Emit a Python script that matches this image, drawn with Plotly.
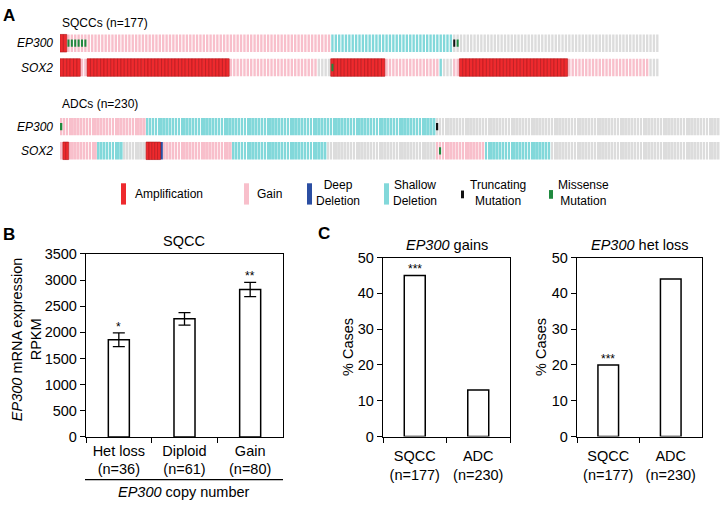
import plotly.graph_objects as go

W, H = 720, 506
FONT = "Liberation Sans, Arial, sans-serif"

# ---------------- Panel A data (run-length encoded per track) ----------------
sqcc_n = 177
adc_n = 230

sqcc_ep300_states = ["Amplification", "Gain", "Shallow Deletion", "None"]
sqcc_ep300_counts = [2, 78, 36, 61]
sqcc_sox2_states = ["Amplification", "Gain", "Amplification", "Gain", "None",
                    "Amplification", "Gain", "Shallow Deletion", "None", "Gain",
                    "Amplification", "Gain", "None"]
sqcc_sox2_counts = [6, 2, 42, 26, 4, 16, 16, 1, 3, 2, 32, 24, 3]

adc_ep300_states = ["Gain", "Shallow Deletion", "None"]
adc_ep300_counts = [30, 101, 99]
adc_sox2_states = ["Gain", "Amplification", "Gain", "Shallow Deletion", "None",
                   "Amplification", "Deep Deletion", "Gain", "Shallow Deletion", "None",
                   "Gain", "Shallow Deletion", "None"]
adc_sox2_counts = [1, 2, 10, 9, 8, 5, 1, 24, 33, 38, 17, 23, 59]

# mutation case indices
sqcc_ep300_missense = [2, 3, 4, 5, 6, 7, 117]
sqcc_ep300_truncating = [116]
sqcc_sox2_missense = [80]
adc_ep300_missense = [0]
adc_ep300_truncating = [131]
adc_sox2_missense = [132]

legend_labels = ["Amplification", "Gain", "Deep<br>Deletion", "Shallow<br>Deletion",
                 "Truncating<br>Mutation", "Missense<br>Mutation"]

# ---------------- Panel B data ----------------
b_categories = ["Het loss<br>(n=36)", "Diploid<br>(n=61)", "Gain<br>(n=80)"]
b_values = [1860, 2260, 2820]
b_errors = [130, 120, 135]
b_stars = ["*", "", "**"]

# ---------------- Panel C data ----------------
c_categories = ["SQCC<br>(n=177)", "ADC<br>(n=230)"]
c_gain_values = [45, 13]
c_gain_stars = ["***", ""]
c_loss_values = [20, 44]
c_loss_stars = ["***", ""]

# ---------------- styles ----------------
COL = {
    "Amplification": "#ee2a2e",
    "Gain": "#f8bfcb",
    "Deep Deletion": "#2b4ea2",
    "Shallow Deletion": "#82d8da",
    "None": "#dcdcdc",
    "Truncating": "#111111",
    "Missense": "#1f8a3f",
}
FS = 14.5


def px_x(p):
    return p / W


def px_y(p):
    return 1 - p / H


def expand(states, counts):
    out = []
    for s, c in zip(states, counts):
        out += [s] * c
    return out


fig = go.Figure()


def add_track(xa, ya, row, states, counts, cellw):
    seq = expand(states, counts)
    for st in ["None", "Gain", "Shallow Deletion", "Deep Deletion", "Amplification"]:
        idx = [i for i, s in enumerate(seq) if s == st]
        if not idx:
            continue
        if st == "Amplification":
            fig.add_trace(go.Bar(x=idx, y=[0.72] * len(idx), base=[row - 0.36] * len(idx),
                                 width=1.0, marker=dict(color=COL[st], line=dict(color="#b81a1e", width=0.7)),
                                 xaxis=xa, yaxis=ya, hoverinfo="skip"))
        else:
            fig.add_trace(go.Bar(x=idx, y=[0.72] * len(idx), base=[row - 0.36] * len(idx),
                                 width=cellw, marker=dict(color=COL[st], line=dict(width=0)),
                                 xaxis=xa, yaxis=ya, hoverinfo="skip"))


def add_mut(xa, ya, row, idx, kind):
    if not idx:
        return
    fig.add_trace(go.Bar(x=idx, y=[0.3] * len(idx), base=[row - 0.15] * len(idx),
                         width=0.6, marker=dict(color=COL[kind], line=dict(width=0)),
                         xaxis=xa, yaxis=ya, hoverinfo="skip"))


add_track("x", "y", 0, sqcc_ep300_states, sqcc_ep300_counts, 0.7)
add_track("x", "y", 1, sqcc_sox2_states, sqcc_sox2_counts, 0.7)
add_mut("x", "y", 0, sqcc_ep300_missense, "Missense")
add_mut("x", "y", 0, sqcc_ep300_truncating, "Truncating")
add_mut("x", "y", 1, sqcc_sox2_missense, "Missense")

add_track("x2", "y2", 0, adc_ep300_states, adc_ep300_counts, 0.66)
add_track("x2", "y2", 1, adc_sox2_states, adc_sox2_counts, 0.66)
add_mut("x2", "y2", 0, adc_ep300_missense, "Missense")
add_mut("x2", "y2", 0, adc_ep300_truncating, "Truncating")
add_mut("x2", "y2", 1, adc_sox2_missense, "Missense")

# ---------------- Panel B ----------------
bar_style = dict(color="white", line=dict(color="black", width=1.5))
fig.add_trace(go.Bar(x=b_categories, y=b_values, width=0.32, marker=bar_style,
                     error_y=dict(type="data", array=b_errors, visible=True, color="black",
                                  thickness=1.3, width=6),
                     xaxis="x3", yaxis="y3", hoverinfo="skip"))

# ---------------- Panel C ----------------
fig.add_trace(go.Bar(x=c_categories, y=c_gain_values, width=0.33, marker=bar_style,
                     xaxis="x4", yaxis="y4", hoverinfo="skip"))
fig.add_trace(go.Bar(x=c_categories, y=c_loss_values, width=0.33, marker=bar_style,
                     xaxis="x5", yaxis="y5", hoverinfo="skip"))

hidden = dict(visible=False, fixedrange=True, showgrid=False, zeroline=False)
tickfont = dict(family=FONT, size=FS, color="black")


def frame_x(dom, standoff):
    return dict(domain=dom, type="category", tickson="boundaries", ticks="outside", ticklen=5,
                tickwidth=1.3, tickcolor="black", showline=True, linecolor="black", linewidth=1.3,
                mirror=True, showgrid=False, zeroline=False, tickfont=tickfont, fixedrange=True,
                ticklabelstandoff=standoff)


def frame_y(dom, rng, dtick):
    return dict(domain=dom, range=rng, dtick=dtick, ticks="outside", ticklen=5, tickwidth=1.3,
                tickcolor="black", showline=True, linecolor="black", linewidth=1.3, mirror=True,
                showgrid=False, zeroline=False, tickfont=tickfont, fixedrange=True)


fig.update_layout(
    width=W, height=H, margin=dict(l=0, r=0, t=0, b=0),
    paper_bgcolor="white", plot_bgcolor="white", showlegend=False, barmode="overlay",
    font=dict(family=FONT, size=12, color="black"),
    xaxis=dict(hidden, domain=[px_x(60), px_x(659)], range=[-0.5, sqcc_n - 0.5]),
    yaxis=dict(hidden, domain=[px_y(74), px_y(23.8)], range=[1.5, -0.5]),
    xaxis2=dict(hidden, domain=[px_x(60), 1.0], range=[-0.5, adc_n - 0.5]),
    yaxis2=dict(hidden, domain=[px_y(160), px_y(110)], range=[1.5, -0.5]),
    xaxis3=frame_x([px_x(86), px_x(283)], 0),
    yaxis3=frame_y([px_y(443), px_y(254)], [0, 3500], 500),
    xaxis4=frame_x([px_x(383), px_x(510)], 6),
    yaxis4=frame_y([px_y(442.5), px_y(257.7)], [0, 50], 10),
    xaxis5=frame_x([px_x(577), px_x(702)], 6),
    yaxis5=frame_y([px_y(442.5), px_y(257.7)], [0, 50], 10),
)
fig.update_layout(xaxis3_anchor="y3", yaxis3_anchor="x3", xaxis4_anchor="y4", yaxis4_anchor="x4",
                  xaxis5_anchor="y5", yaxis5_anchor="x5", xaxis2_anchor="y2", yaxis2_anchor="x2")

ann = []


def text(x, y, s, size=12, xanchor="center", yanchor="middle", angle=0, bold=False):
    if bold:
        s = "<b>" + s + "</b>"
    ann.append(dict(x=px_x(x), y=px_y(y), xref="paper", yref="paper", text=s, showarrow=False,
                    xanchor=xanchor, yanchor=yanchor, textangle=angle,
                    font=dict(family=FONT, size=size, color="black")))


# panel letters
text(1, 8, "A", size=17, xanchor="left", bold=True)
text(1, 234, "B", size=17, xanchor="left", bold=True)
text(316, 233, "C", size=17, xanchor="left", bold=True)

# panel A labels
text(60, 15, "SQCCs (n=177)", xanchor="left")
text(55, 36.5, "<i>EP300</i>", xanchor="right")
text(55, 61.5, "<i>SOX2</i>", xanchor="right")
text(60, 99, "ADCs (n=230)", xanchor="left")
text(55, 122.5, "<i>EP300</i>", xanchor="right")
text(55, 147.5, "<i>SOX2</i>", xanchor="right")

# legend
shapes = []
leg_rects = [
    (121, 126, 181, 203, COL["Amplification"]),
    (244, 249, 181, 203, COL["Gain"]),
    (307, 312, 181, 203, COL["Deep Deletion"]),
    (384, 389, 181, 203, COL["Shallow Deletion"]),
    (461, 464, 188.5, 196.5, COL["Truncating"]),
    (549, 553, 188, 197, COL["Missense"]),
]
for x0, x1, y0, y1, c in leg_rects:
    shapes.append(dict(type="rect", xref="paper", yref="paper", x0=px_x(x0), x1=px_x(x1),
                       y0=px_y(y1), y1=px_y(y0), fillcolor=c, line=dict(width=0)))
text(133, 192, legend_labels[0], xanchor="left")
text(255, 192, legend_labels[1], xanchor="left")
text(338, 191, legend_labels[2])
text(415, 191, legend_labels[3])
text(498, 191, legend_labels[4])
text(583.5, 191, legend_labels[5])

# panel B extras
text(184.5, 241, "SQCC", size=FS)
text(26, 342, "<i>EP300</i> mRNA expression<br>RPKM", size=FS, angle=-90)
shapes.append(dict(type="line", xref="paper", yref="paper", x0=px_x(85), x1=px_x(283),
                   y0=px_y(487), y1=px_y(487), line=dict(color="black", width=1.3)))
text(184, 500, "<i>EP300</i> copy number", size=FS)
for c, v, e, s in zip(b_categories, b_values, b_errors, b_stars):
    if s:
        ann.append(dict(x=c, y=v + e, xref="x3", yref="y3", text=s, showarrow=False,
                        yanchor="bottom", yshift=-3, font=dict(family=FONT, size=12, color="black")))

# panel C extras
text(446.5, 245, "<i>EP300</i> gains", size=FS)
text(639.5, 245, "<i>EP300</i> het loss", size=FS)
text(348, 350, "% Cases", size=FS, angle=-90)
text(541, 350, "% Cases", size=FS, angle=-90)
for xa, ya, vals, stars in [("x4", "y4", c_gain_values, c_gain_stars), ("x5", "y5", c_loss_values, c_loss_stars)]:
    for c, v, s in zip(c_categories, vals, stars):
        if s:
            ann.append(dict(x=c, y=v, xref=xa, yref=ya, text=s, showarrow=False,
                            yanchor="bottom", yshift=-3, font=dict(family=FONT, size=12, color="black")))

fig.update_layout(annotations=ann, shapes=shapes)
fig.write_html("out.html", config={"displayModeBar": False},
               post_script="document.body.style.margin='0';document.body.style.overflow='hidden';")
